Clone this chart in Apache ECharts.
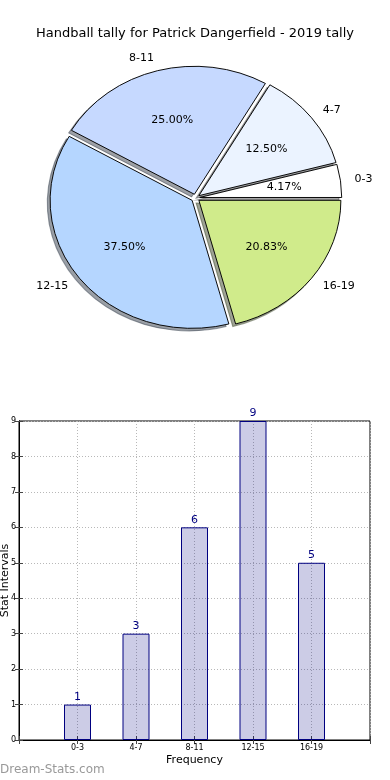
<!DOCTYPE html>
<html>
<head>
<meta charset="utf-8">
<script src="https://cdn.jsdelivr.net/npm/echarts@6/dist/echarts.min.js"></script>
<style>
html,body{margin:0;padding:0;background:#fff;}
#chart{width:390px;height:780px;}
</style>
</head>
<body>
<div id="chart"></div>
<script>
// ---- data ----
const titleText = 'Handball tally for Patrick Dangerfield - 2019 tally';
const categories = ['0-3', '4-7', '8-11', '12-15', '16-19'];
const pieValues = [1, 3, 6, 9, 5];
const barValues = [1, 3, 6, 9, 5];
const yTicks = [0, 1, 2, 3, 4, 5, 6, 7, 8, 9];

// ---- styles ----
const pieColors = ['#ffffff', '#ebf3ff', '#c6d9ff', '#b5d6ff', '#d0eb8b'];
const FONT = 'DejaVu Sans';
const PIE = { cx: 195.5, cy: 198, rx: 142, ry: 128, explode: 0.03, shadowDx: -2.8, shadowDy: 2.6 };

const total = pieValues.reduce((a, b) => a + b, 0);
const cum = [];
pieValues.reduce((acc, v, i) => { cum[i] = acc; return acc + v; }, 0);

function shade(hex) {
  const n = parseInt(hex.slice(1), 16);
  const r = Math.round(((n >> 16) & 255) * 0.3), g = Math.round(((n >> 8) & 255) * 0.3), b = Math.round((n & 255) * 0.3);
  return 'rgba(' + r + ',' + g + ',' + b + ',0.5)';
}

function wedgeGeom(i, api) {
  const v = api.value(0);
  const start = cum[i] / total * Math.PI * 2;
  const end = (cum[i] + v) / total * Math.PI * 2;
  const mid = (start + end) / 2;
  const x = PIE.cx + PIE.explode * PIE.rx * Math.cos(mid);
  const y = PIE.cy - PIE.explode * PIE.ry * Math.sin(mid);
  return { v, start, end, mid, x, y };
}

function renderShadow(params, api) {
  const i = params.dataIndex;
  const g = wedgeGeom(i, api);
  return {
    type: 'sector',
    x: g.x + PIE.shadowDx, y: g.y + PIE.shadowDy,
    scaleX: PIE.rx / PIE.ry, scaleY: 1,
    shape: { cx: 0, cy: 0, r0: 0, r: PIE.ry, startAngle: -g.end, endAngle: -g.start, clockwise: true },
    style: { fill: shade(pieColors[i]), stroke: shade(pieColors[i]), lineWidth: 1 }
  };
}

function renderWedge(params, api) {
  const i = params.dataIndex;
  const g = wedgeGeom(i, api);
  const pct = (g.v / total * 100).toFixed(2) + '%';
  const c = Math.cos(g.mid), s = Math.sin(g.mid);
  return {
    type: 'group',
    children: [
      {
        type: 'sector',
        x: g.x, y: g.y,
        scaleX: PIE.rx / PIE.ry, scaleY: 1,
        shape: { cx: 0, cy: 0, r0: 0, r: PIE.ry, startAngle: -g.end, endAngle: -g.start, clockwise: true },
        style: { fill: pieColors[i], stroke: '#000', lineWidth: 0.9 }
      },
      {
        type: 'text',
        x: g.x + 0.6 * PIE.rx * c, y: g.y - 0.6 * PIE.ry * s,
        style: { text: pct, fill: '#000', font: '11px "' + FONT + '"', align: 'center', verticalAlign: 'middle' }
      },
      {
        type: 'text',
        x: g.x + 1.1 * PIE.rx * c, y: g.y - 1.1 * PIE.ry * s,
        style: { text: categories[i], fill: '#000', font: '11px "' + FONT + '"', align: c >= 0 ? 'left' : 'right', verticalAlign: 'middle' }
      }
    ]
  };
}

const chart = echarts.init(document.getElementById('chart'), null, { renderer: 'canvas' });

const gridLine = { show: true, lineStyle: { color: '#b8b8b8', type: [1, 2], width: 1 } };

chart.setOption({
  animation: false,
  backgroundColor: '#fff',
  title: {
    text: titleText, left: 'center', top: 22,
    textStyle: { fontFamily: FONT, fontSize: 13, fontWeight: 'normal', color: '#000' }
  },
  graphic: [{
    type: 'text', left: 0, top: 764,
    style: { text: 'Dream-Stats.com', fill: '#999999', font: '12px "' + FONT + '"' }
  }],
  grid: {
    left: 19, right: 20, top: 421, bottom: 40, show: true, borderColor: '#000', borderWidth: 1,
    containLabel: false, outerBoundsMode: 'none'
  },
  xAxis: [{
    type: 'value', min: 0, max: categories.length + 1, interval: 1,
    name: 'Frequency', nameLocation: 'middle', nameGap: 15, nameMoveOverlap: false,
    nameTextStyle: { fontFamily: FONT, fontSize: 11, color: '#000' },
    axisLine: { show: true, lineStyle: { color: '#000' } },
    axisTick: { show: true, inside: true, length: 4, lineStyle: { color: '#444' } },
    axisLabel: {
      fontFamily: FONT, fontSize: 8, color: '#000', margin: 4,
      formatter: v => (v >= 1 && v <= categories.length) ? categories[v - 1] : ''
    },
    splitLine: gridLine
  }, {
    type: 'value', position: 'top', min: 0, max: categories.length + 1, interval: 1,
    axisLine: { show: true, lineStyle: { color: '#000' } },
    axisTick: { show: true, inside: true, length: 4, lineStyle: { color: '#444' } },
    axisLabel: { show: false }, splitLine: { show: false }
  }],
  yAxis: [{
    type: 'value', min: yTicks[0], max: yTicks[yTicks.length - 1], interval: 1,
    name: 'Stat Intervals', nameLocation: 'middle', nameGap: 8, nameRotate: 90, nameMoveOverlap: false,
    nameTextStyle: { fontFamily: FONT, fontSize: 11, color: '#000' },
    axisLine: { show: true, lineStyle: { color: '#000' } },
    axisTick: { show: true, inside: true, length: 4, lineStyle: { color: '#444' } },
    axisLabel: { fontFamily: FONT, fontSize: 8, color: '#000', margin: 3 },
    splitLine: gridLine
  }, {
    type: 'value', position: 'right', min: yTicks[0], max: yTicks[yTicks.length - 1], interval: 1,
    axisLine: { show: true, lineStyle: { color: '#000' } },
    axisTick: { show: true, inside: true, length: 4, lineStyle: { color: '#444' } },
    axisLabel: { show: false }, splitLine: { show: false }
  }],
  series: [
    {
      type: 'custom', coordinateSystem: 'none', silent: true, z: 1,
      data: pieValues, renderItem: renderShadow
    },
    {
      type: 'custom', coordinateSystem: 'none', silent: true, z: 2,
      data: pieValues, renderItem: renderWedge
    },
    {
      type: 'bar', xAxisIndex: 0, yAxisIndex: 0, barWidth: 27,
      data: barValues.map((v, i) => [i + 1, v]),
      itemStyle: { color: 'rgba(0,0,128,0.2)', borderColor: '#000080', borderWidth: 1 },
      label: { show: true, position: 'top', distance: 2, color: '#000080', fontFamily: FONT, fontSize: 11 }
    }
  ]
});
</script>
</body>
</html>
